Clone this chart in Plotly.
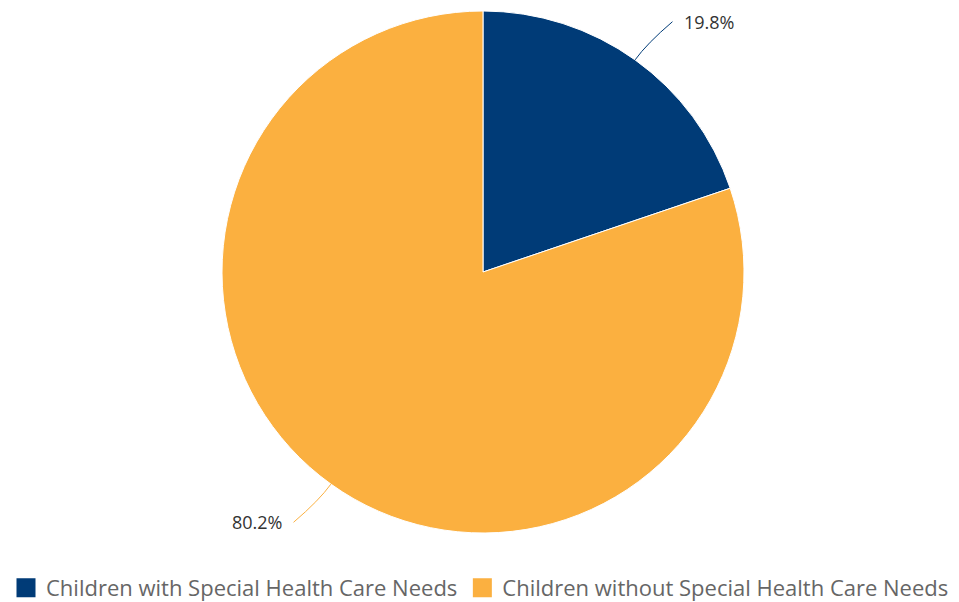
import math
import plotly.graph_objects as go

labels = ["Children with Special Health Care Needs", "Children without Special Health Care Needs"]
values = [19.8, 80.2]
colors = ["#003B77", "#FBB040"]

W, H = 959, 602
cx, cy, r = 483, 272, 261

fig = go.Figure(go.Pie(
    labels=labels, values=values, sort=False, direction="clockwise", rotation=0,
    marker=dict(colors=colors, line=dict(color="#ffffff", width=1)),
    textinfo="none", hoverinfo="label+percent", showlegend=False,
    domain=dict(x=[(cx - r) / W, (cx + r) / W], y=[(H - cy - r) / H, (H - cy + r) / H]),
))

# legend entries
for lab, c in zip(labels, colors):
    fig.add_trace(go.Scatter(x=[None], y=[None], mode="markers", name=lab,
                             marker=dict(symbol="square", size=16, color=c,
                                         line=dict(color=c, width=3)),
                             hoverinfo="skip"))

shapes, annotations = [], []
total = sum(values)
cum = 0
px = lambda x: x / W
py = lambda y: 1 - y / H
for v, c in zip(values, colors):
    mid = (cum + v / 2) / total * 2 * math.pi
    cum += v
    dx, dy = math.sin(mid), -math.cos(mid)
    x0, y0 = cx + r * dx, cy + r * dy
    xc, yc = cx + (r + 20) * dx, cy + (r + 20) * dy
    x1, y1 = cx + (r + 47) * dx + (10 if dx > 0 else -10), cy + (r + 47) * dy
    shapes.append(dict(type="path", xref="paper", yref="paper",
                       path=f"M {px(x0)},{py(y0)} Q {px(xc)},{py(yc)} {px(x1)},{py(y1)}",
                       line=dict(color=c, width=1)))
    annotations.append(dict(xref="paper", yref="paper", x=px(x1 + (10 if dx > 0 else -10)), y=py(y1),
                            text=f"{v}%", showarrow=False,
                            xanchor="left" if dx > 0 else "right", yanchor="middle",
                            font=dict(family="Open Sans", size=18, color="#333333")))

fig.update_layout(
    width=W, height=H, margin=dict(l=0, r=0, t=0, b=0, autoexpand=False),
    paper_bgcolor="#ffffff", plot_bgcolor="#ffffff",
    font=dict(family="Open Sans"),
    xaxis=dict(visible=False), yaxis=dict(visible=False),
    shapes=shapes, annotations=annotations,
    showlegend=True,
    legend=dict(orientation="h", x=6 / W, xanchor="left", y=(H - 588) / H, yanchor="middle",
                font=dict(family="Open Sans", size=22, color="#666666"),
                itemclick=False, itemdoubleclick=False),
)
fig.write_html("out.html")
